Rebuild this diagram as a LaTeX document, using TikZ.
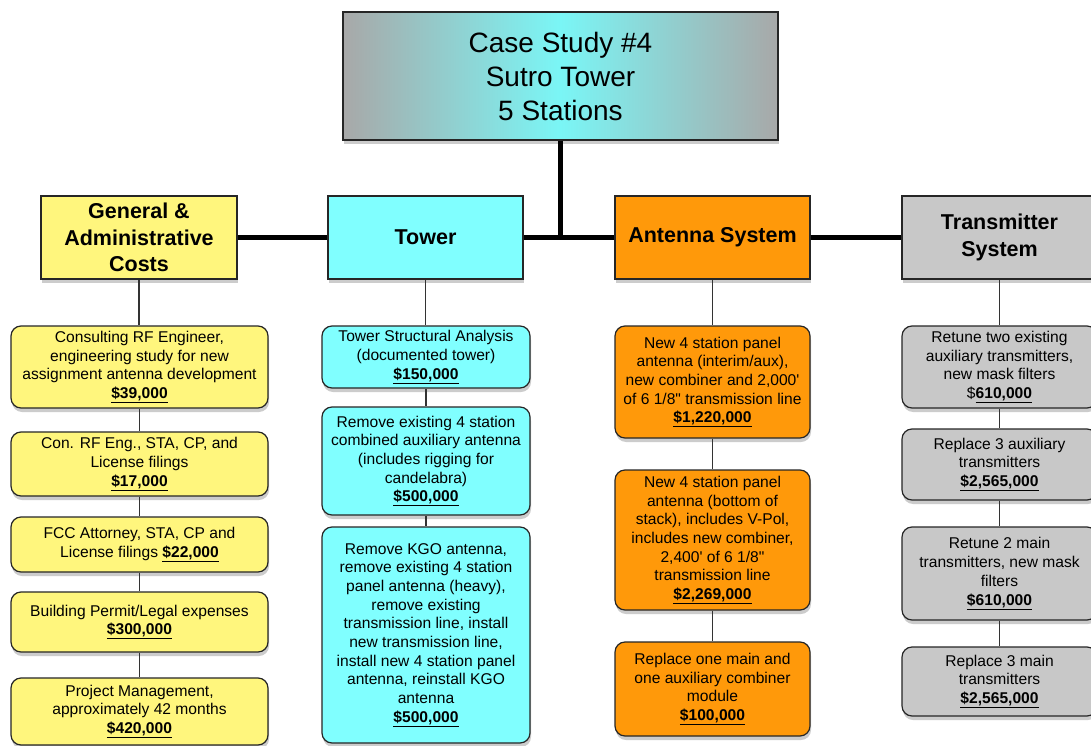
\documentclass[tikz,border=0pt]{standalone}
\usepackage{fontspec}
\setmainfont{Liberation Sans}
\usetikzlibrary{shadows}

\definecolor{gayellow}{RGB}{255,246,125}
\definecolor{towcyan}{RGB}{128,255,255}
\definecolor{antorange}{RGB}{255,153,10}
\definecolor{txgray}{RGB}{200,200,200}
\definecolor{topgray}{RGB}{168,168,168}
\definecolor{topcyan}{RGB}{122,246,246}

\newcommand{\cost}[1]{\underline{\textbf{\$#1}}}

\begin{document}
\begin{tikzpicture}[x=1pt,y=-1pt,
  boxshadow/.style={drop shadow={shadow xshift=1pt,shadow yshift=-4pt,opacity=0.4}},
  topbox/.style={draw=black!85,line width=1.2pt,minimum width=435pt,minimum height=128pt,
    left color=topgray,right color=topgray,middle color=topcyan,align=center,
    font=\fontsize{28}{34}\selectfont,boxshadow},
  headbox/.style={draw=black!85,line width=1.2pt,minimum width=195pt,minimum height=83pt,
    align=center,font=\fontsize{21.5}{26.5}\selectfont\bfseries,boxshadow},
  itembox/.style={draw=black!85,line width=1.2pt,rounded corners=10pt,align=center,
    font=\fontsize{15.6}{18.7}\selectfont,boxshadow},
  bus/.style={line width=5pt},
  link/.style={line width=1.2pt,black!80}]
\useasboundingbox (0,0) rectangle (1091,746);
\fill[white] (0,0) rectangle (1091,746);

% top of the tree
\node[topbox] (top) at (560.5,76) {Case Study \#4\\Sutro Tower\\5 Stations};

% cost groups
\node[headbox,fill=gayellow,minimum width=196pt] (ga) at (139,237.5) {General \&\\Administrative\\Costs};
\node[headbox,fill=towcyan] (tow) at (425.5,237.5) {Tower};
\node[headbox,fill=antorange] (ant) at (712.5,237.5) {Antenna System};
\node[headbox,fill=txgray] (tx) at (999.5,237.5) {Transmitter\\System};

% general & administrative
\node[itembox,fill=gayellow,minimum width=257pt,minimum height=82pt] (ga1) at (139.5,367)
  {Consulting RF Engineer,\\engineering study for new\\assignment antenna development\\\cost{39,000}};
\node[itembox,fill=gayellow,minimum width=257pt,minimum height=64pt] (ga2) at (139.5,464)
  {Con. RF Eng., STA, CP, and\\License filings\\\cost{17,000}};
\node[itembox,fill=gayellow,minimum width=257pt,minimum height=55pt] (ga3) at (139.5,544.5)
  {FCC Attorney, STA, CP and\\License filings \cost{22,000}};
\node[itembox,fill=gayellow,minimum width=257pt,minimum height=60pt] (ga4) at (139.5,622)
  {Building Permit/Legal expenses\\\cost{300,000}};
\node[itembox,fill=gayellow,minimum width=257pt,minimum height=67pt] (ga5) at (139.5,711.5)
  {Project Management,\\approximately 42 months\\\cost{420,000}};

% tower
\node[itembox,fill=towcyan,minimum width=208pt,minimum height=62pt] (tow1) at (426,357)
  {Tower Structural Analysis\\(documented tower)\\\cost{150,000}};
\node[itembox,fill=towcyan,minimum width=208pt,minimum height=108pt] (tow2) at (426,461)
  {Remove existing 4 station\\combined auxiliary antenna\\(includes rigging for\\candelabra)\\\cost{500,000}};
\node[itembox,fill=towcyan,minimum width=208pt,minimum height=216pt] (tow3) at (426,635)
  {Remove KGO antenna,\\remove existing 4 station\\panel antenna (heavy),\\remove existing\\transmission line, install\\new transmission line,\\install new 4 station panel\\antenna, reinstall KGO\\antenna\\\cost{500,000}};

% antenna system
\node[itembox,fill=antorange,minimum width=195pt,minimum height=112pt] (ant1) at (712.5,382)
  {New 4 station panel\\antenna (interim/aux),\\new combiner and 2,000\textquotesingle\\of 6 1/8\textquotedbl{} transmission line\\\cost{1,220,000}};
\node[itembox,fill=antorange,minimum width=195pt,minimum height=140pt] (ant2) at (712.5,540)
  {New 4 station panel\\antenna (bottom of\\stack), includes V-Pol,\\includes new combiner,\\2,400\textquotesingle{} of 6 1/8\textquotedbl\\transmission line\\\cost{2,269,000}};
\node[itembox,fill=antorange,minimum width=195pt,minimum height=94pt] (ant3) at (712.5,689)
  {Replace one main and\\one auxiliary combiner\\module\\\cost{100,000}};

% transmitter system
\node[itembox,fill=txgray,minimum width=195pt,minimum height=82pt] (tx1) at (999.5,367)
  {Retune two existing\\auxiliary transmitters,\\new mask filters\\\$\underline{\textbf{610,000}}};
\node[itembox,fill=txgray,minimum width=195pt,minimum height=71pt] (tx2) at (999.5,464.5)
  {Replace 3 auxiliary\\transmitters\\\cost{2,565,000}};
\node[itembox,fill=txgray,minimum width=195pt,minimum height=93pt] (tx3) at (999.5,573.5)
  {Retune 2 main\\transmitters, new mask\\filters\\\cost{610,000}};
\node[itembox,fill=txgray,minimum width=195pt,minimum height=69pt] (tx4) at (999.5,681.5)
  {Replace 3 main\\transmitters\\\cost{2,565,000}};

% connectors
\draw[bus] (top.south) -- (top.south |- tow.east);
\draw[bus] (ga.east) -- (tow.west);
\draw[bus] (tow.east) -- (ant.west);
\draw[bus] (ant.east) -- (tx.west);
\foreach \a/\b in {ga/ga1,ga1/ga2,ga2/ga3,ga3/ga4,ga4/ga5,
                   tow/tow1,tow1/tow2,tow2/tow3,
                   ant/ant1,ant1/ant2,ant2/ant3,
                   tx/tx1,tx1/tx2,tx2/tx3,tx3/tx4}
  \draw[link] (\a.south) -- (\a.south |- \b.north);
\end{tikzpicture}
\end{document}
